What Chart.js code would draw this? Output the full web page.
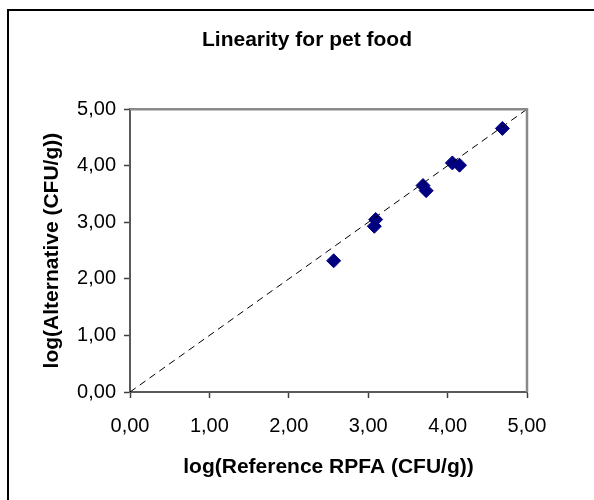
<!DOCTYPE html>
<html>
<head>
<meta charset="utf-8">
<script src="https://cdn.jsdelivr.net/npm/chart.js@4/dist/chart.umd.min.js"></script>
<style>
  html, body { margin: 0; padding: 0; background: #ffffff; }
  #wrap { width: 594px; height: 500px; }
</style>
</head>
<body>
<div id="wrap"><canvas id="c" width="594" height="500"></canvas></div>
<script>
// ---- data ----
const chartTitle = 'Linearity for pet food';
const xAxisTitle = 'log(Reference RPFA (CFU/g))';
const yAxisTitle = 'log(Alternative (CFU/g))';
const referenceValues = [2.565, 3.094, 3.077, 3.69, 3.73, 4.06, 4.15, 4.69];
const alternativeValues = [2.32, 3.05, 2.93, 3.65, 3.56, 4.05, 4.01, 4.66];
const identityX = [0, 5];
const identityY = [0, 5];
const tickValues = [0, 1, 2, 3, 4, 5];
const tickLabels = ['0,00', '1,00', '2,00', '3,00', '4,00', '5,00'];

const FONT = '"Liberation Sans", Arial, sans-serif';

const scatterData = referenceValues.map((x, i) => ({ x: x, y: alternativeValues[i] }));
const lineData = identityX.map((x, i) => ({ x: x, y: identityY[i] }));

function tickLabel(value) {
  const i = tickValues.indexOf(value);
  return i >= 0 ? tickLabels[i] : '';
}

const framePlugin = {
  id: 'frame',
  beforeDraw(chart) {
    const ctx = chart.ctx;
    ctx.save();
    ctx.fillStyle = '#ffffff';
    ctx.fillRect(0, 0, chart.width, chart.height);
    ctx.restore();
  },
  afterDraw(chart) {
    const ctx = chart.ctx;
    const a = chart.chartArea;
    ctx.save();
    // outer chart frame (only top and left edges are inside the picture)
    ctx.strokeStyle = '#000000';
    ctx.lineWidth = 2;
    ctx.beginPath();
    ctx.moveTo(8, 600);
    ctx.lineTo(8, 10);
    ctx.lineTo(700, 10);
    ctx.stroke();
    // plot area top & right border
    ctx.strokeStyle = '#8a8a8a';
    ctx.lineWidth = 2.5;
    ctx.beginPath();
    ctx.moveTo(a.left, a.top);
    ctx.lineTo(a.right, a.top);
    ctx.lineTo(a.right, a.bottom);
    ctx.stroke();
    ctx.restore();
  }
};

new Chart(document.getElementById('c'), {
  type: 'scatter',
  data: {
    datasets: [
      {
        type: 'line',
        label: 'identity',
        data: lineData,
        borderColor: '#000000',
        borderWidth: 1,
        borderDash: [7, 5],
        pointRadius: 0,
        fill: false,
        order: 0
      },
      {
        label: 'pet food',
        data: scatterData,
        pointStyle: 'rectRot',
        pointRadius: 7,
        pointHoverRadius: 7,
        backgroundColor: '#000080',
        borderColor: '#000080',
        borderWidth: 1,
        order: 1
      }
    ]
  },
  options: {
    responsive: false,
    animation: false,
    devicePixelRatio: 1,
    layout: { padding: { left: 30, right: 10, top: 0, bottom: 0 } },
    plugins: {
      legend: { display: false },
      tooltip: { enabled: false },
      title: {
        display: true,
        text: chartTitle,
        color: '#000000',
        font: { family: FONT, size: 21, weight: 'bold' },
        padding: { top: 28, bottom: 56 }
      }
    },
    scales: {
      x: {
        type: 'linear',
        min: 0,
        max: 5,
        afterBuildTicks(scale) { scale.ticks = tickValues.map(v => ({ value: v })); },
        afterFit(scale) { scale.height = 108; },
        ticks: {
          callback: tickLabel,
          color: '#000000',
          font: { family: FONT, size: 20 },
          padding: 16,
          maxRotation: 0
        },
        grid: { display: true, drawOnChartArea: false, tickLength: 6, color: '#404040', tickWidth: 1.5 },
        border: { display: true, color: '#5a5a5a', width: 2 },
        title: {
          display: true,
          text: xAxisTitle,
          color: '#000000',
          font: { family: FONT, size: 21, weight: 'bold' },
          padding: { top: 0, bottom: 20 }
        }
      },
      y: {
        type: 'linear',
        position: 'left',
        min: 0,
        max: 5,
        afterBuildTicks(scale) { scale.ticks = tickValues.map(v => ({ value: v })); },
        afterFit(scale) { scale.width = 100; },
        ticks: {
          callback: tickLabel,
          color: '#000000',
          font: { family: FONT, size: 20 },
          padding: 8
        },
        grid: { display: true, drawOnChartArea: false, tickLength: 6, color: '#404040', tickWidth: 1.5 },
        border: { display: true, color: '#5a5a5a', width: 2 },
        title: {
          display: true,
          text: yAxisTitle,
          color: '#000000',
          font: { family: FONT, size: 21, weight: 'bold' },
          padding: { top: 10, bottom: 0 }
        }
      },
      ySpacer: {
        type: 'linear',
        position: 'right',
        min: 0,
        max: 5,
        display: true,
        afterFit(scale) { scale.width = 57; },
        ticks: { display: false },
        grid: { display: false },
        border: { display: false },
        title: { display: false }
      }
    }
  },
  plugins: [framePlugin]
});
</script>
</body>
</html>
